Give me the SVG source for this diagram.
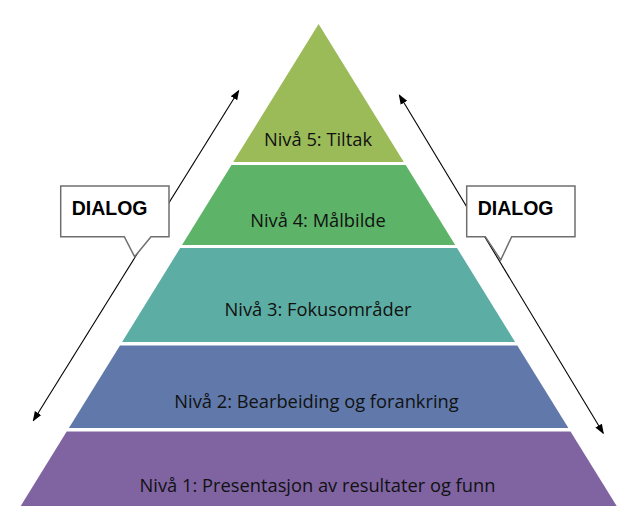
<svg xmlns="http://www.w3.org/2000/svg" width="634" height="516" viewBox="0 0 634 516">
<style>
.lvl text{font-family:"Open Sans","Liberation Sans",sans-serif;font-size:18.3px;fill:#111;text-anchor:middle}
.dlg path{fill:#fff;stroke:#6f6f6f;stroke-width:1.5}
.dlg text{font-family:"Liberation Sans",Arial,sans-serif;font-weight:bold;font-size:19.5px;fill:#000}
.conn line{stroke:#000;stroke-width:1.1;marker-start:url(#ah);marker-end:url(#ah)}
</style>
<defs>
<marker id="ah" viewBox="0 0 10 10" refX="9" refY="5" markerWidth="10" markerHeight="10" markerUnits="userSpaceOnUse" orient="auto-start-reverse">
<path d="M0,1.2 L10,5 L0,8.8 Z" fill="#000"/>
</marker>
</defs>
<rect width="634" height="516" fill="#fff"/>
<g id="level5" class="lvl">
<polygon points="318.6,24 233.2,162 403.8,162" fill="#9bbb59"/>
<text x="318" y="145.7">Nivå 5: Tiltak</text>
</g>
<g id="level4" class="lvl">
<polygon points="231.5,165 405.7,165 455.2,245 182,245" fill="#5db468"/>
<text x="318" y="226.7">Nivå 4: Målbilde</text>
</g>
<g id="level3" class="lvl">
<polygon points="180.2,248 457,248 515.1,342 122.1,342" fill="#5cada3"/>
<text x="318" y="315.7">Nivå 3: Fokusområder</text>
</g>
<g id="level2" class="lvl">
<polygon points="120,345.5 517.3,345.5 568.4,428 68.9,428" fill="#6079aa"/>
<text x="316.5" y="407.7">Nivå 2: Bearbeiding og forankring</text>
</g>
<g id="level1" class="lvl">
<polygon points="66.7,431.5 570.5,431.5 616.7,506 20.7,506" fill="#8064a2"/>
<text x="317.5" y="491.7">Nivå 1: Presentasjon av resultater og funn</text>
</g>
<g id="connectors" class="conn">
<line x1="33.3" y1="420.7" x2="238.7" y2="90.7"/>
<line x1="603.3" y1="433.3" x2="399.3" y2="95"/>
</g>
<g id="dialog-left" class="dlg">
<path d="M60.7,186 H169 V236.7 H151 L134.6,256.7 L124.3,236.7 H60.7 Z"/>
<text x="71.7" y="215">DIALOG</text>
</g>
<g id="dialog-right" class="dlg">
<path d="M466.7,186 H575 V236.7 H511.7 L500.7,260 L485.3,236.7 H466.7 Z"/>
<text x="477.7" y="215">DIALOG</text>
</g>
</svg>
